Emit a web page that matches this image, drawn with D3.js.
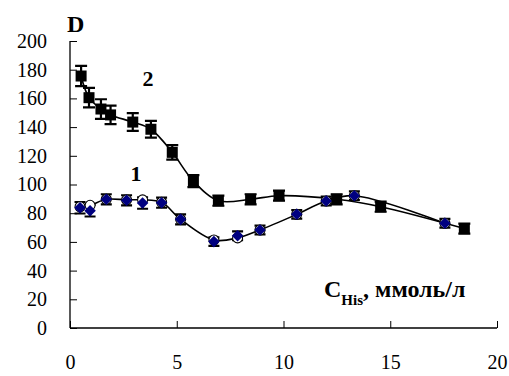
<!DOCTYPE html>
<html>
<head>
<meta charset="utf-8">
<script src="https://cdn.jsdelivr.net/npm/d3@7"></script>
</head>
<body style="margin:0">
<svg id="chart"></svg>
<script>
/* data */
const xTicks = [0, 5, 10, 15, 20]
const yTicks = [0, 20, 40, 60, 80, 100, 120, 140, 160, 180, 200]

// curve 2 (black squares)
const x2 = [0.52, 0.89, 1.45, 1.9, 2.94, 3.79, 4.79, 5.78, 6.95, 8.46, 9.79, 12.49, 14.55, 18.47]
const y2 = [175.6, 160.5, 152.6, 148.5, 143.5, 138.5, 122.4, 102.4, 88.7, 89.7, 92.2, 89.7, 84.5, 69.3]
const e2 = [7, 6.8, 6.8, 6.4, 6.2, 5.8, 5, 4.2, 3.5, 3.5, 3.5, 3.5, 3.5, 3.5]

// curve 1 (blue diamonds, measured)
const x1 = [0.47, 0.94, 1.7, 2.65, 3.4, 4.29, 5.18, 6.74, 7.85, 8.9, 10.62, 12.0, 13.32, 17.56]
const y1 = [83.8, 81.7, 89.7, 89, 87.1, 87.3, 75.7, 60.2, 64.3, 68.3, 79.2, 88.5, 92.2, 73]
const e1 = [4, 4, 3.5, 3.5, 4, 3.5, 3.5, 3, 3, 3, 3, 3, 3, 3]
// curve 1 (open circles, smoothed)
const yc = [84.5, 85.5, 89.7, 89.3, 89.3, 87.6, 75.7, 61.3, 62.8, 68.3, 79.2, 88.5, 92.2, 73]

/* layout */
const W = 509, H = 376
const svg = d3.select('#chart').attr('width', W).attr('height', H)

const x = d3.scaleLinear().domain([0, 20]).range([70, 497])
const y = d3.scaleLinear().domain([0, 200]).range([328, 41])

// axes
const yAxis = svg.append('g').attr('transform', `translate(${x(0)},0)`)
  .call(d3.axisLeft(y).tickValues(yTicks).tickSize(-7).tickPadding(23))
const xAxis = svg.append('g').attr('transform', `translate(0,${y(0)})`)
  .call(d3.axisBottom(x).tickValues(xTicks).tickSize(-7).tickPadding(22))
;[yAxis, xAxis].forEach(a => {
  a.attr('font-family', 'Liberation Serif').attr('font-size', 20)
  a.select('.domain').attr('stroke', '#000').attr('stroke-width', 1.3)
  a.selectAll('.tick line').attr('stroke', '#000').attr('stroke-width', 1)
  a.selectAll('.tick text').attr('fill', '#000')
})
yAxis.select('.domain').attr('d', `M0,${y(200)}V${y(0)}`)
xAxis.select('.domain').attr('d', `M${x(0)},0H${x(20)}`)
xAxis.selectAll('.tick text').attr('dy', '0.95em')

const line = d3.line().x(d => x(d[0])).y(d => y(d[1])).curve(d3.curveCatmullRom.alpha(0.5))

const pts2 = x2.map((v, i) => [v, y2[i], e2[i]])
const pts1 = x1.map((v, i) => [v, y1[i], e1[i]])
const ptsC = x1.map((v, i) => [v, yc[i]])

svg.append('path').datum(pts2).attr('d', line)
  .attr('fill', 'none').attr('stroke', '#000').attr('stroke-width', 1.6)
svg.append('path').datum(ptsC).attr('d', line)
  .attr('fill', 'none').attr('stroke', '#000').attr('stroke-width', 1.6)

function errBars (pts, cap) {
  const g = svg.append('g').attr('stroke', '#000').attr('stroke-width', 2.2)
  g.selectAll('path').data(pts).enter().append('path')
    .attr('fill', 'none')
    .attr('d', d => {
      const cx = x(d[0]), t = y(d[1] + d[2]), b = y(d[1] - d[2])
      return `M${cx - cap},${t}H${cx + cap}M${cx},${t}V${b}M${cx - cap},${b}H${cx + cap}`
    })
}
errBars(pts2, 6)
errBars(pts1, 5.5)

// open circles
svg.append('g').selectAll('circle').data(ptsC).enter().append('circle')
  .attr('cx', d => x(d[0])).attr('cy', d => y(d[1])).attr('r', 5)
  .attr('fill', '#fff').attr('stroke', '#000').attr('stroke-width', 1.1)

// squares
svg.append('g').selectAll('rect').data(pts2).enter().append('rect')
  .attr('x', d => x(d[0]) - 5.5).attr('y', d => y(d[1]) - 5.5)
  .attr('width', 11).attr('height', 11).attr('fill', '#000')

// diamonds
const diamond = d3.symbol().type(d3.symbolDiamond2).size(85)
svg.append('g').selectAll('path').data(pts1).enter().append('path')
  .attr('transform', d => `translate(${x(d[0])},${y(d[1])})`)
  .attr('d', diamond).attr('fill', '#000080')

// labels
const lab = (tx, ty, s, size, anchor) => svg.append('text')
  .attr('x', tx).attr('y', ty).attr('font-family', 'Liberation Serif').attr('font-weight', 'bold')
  .attr('font-size', size).attr('text-anchor', anchor || 'start').text(s)
lab(67, 32, 'D', 24)
lab(148, 86, '2', 22, 'middle')
lab(136, 181, '1', 22, 'middle')

const xl = svg.append('text').attr('x', 324).attr('y', 297)
  .attr('font-family', 'Liberation Serif').attr('font-weight', 'bold').attr('font-size', 24)
xl.append('tspan').text('C')
xl.append('tspan').attr('font-size', 15).attr('dy', 8).text('His')
xl.append('tspan').attr('dy', -8).text(', ммоль/л')
</script>
</body>
</html>
